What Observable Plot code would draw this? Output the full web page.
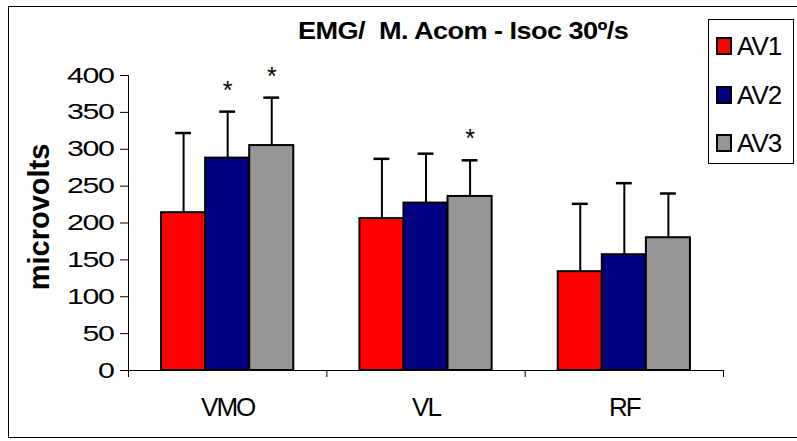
<!DOCTYPE html>
<html>
<head>
<meta charset="utf-8">
<script src="https://cdn.jsdelivr.net/npm/d3@7"></script>
<script src="https://cdn.jsdelivr.net/npm/@observablehq/plot@0.6"></script>
<style>
  html, body { margin: 0; padding: 0; background: #fff; overflow: hidden; }
  #chart { position: relative; width: 797px; height: 441px; font-family: "Liberation Sans", Arial, sans-serif; color: #000; }
  #chart svg { position: absolute; left: 0; top: 0; }
  #frame { position: absolute; left: 8px; top: 6px; width: 830px; height: 432px; border: 1px solid #000; box-sizing: border-box; }
  #title { position: absolute; left: 298px; top: 19px; font-weight: bold; font-size: 24px; line-height: 24px; white-space: pre; letter-spacing: -0.5px; transform: scaleX(1.13); transform-origin: 0 50%; }
  #legend { position: absolute; left: 708px; top: 19px; width: 86px; height: 145px; border: 1px solid #000; box-sizing: border-box; background: #fff; }
  #legend .item { position: absolute; left: 7px; height: 20px; display: flex; align-items: center; }
  #legend .swatch { width: 16px; height: 18px; border: 2px solid #000; box-sizing: border-box; }
  #legend .item span { font-size: 26px; line-height: 20px; letter-spacing: -1px; margin-left: 5px; }
</style>
</head>
<body>
<div id="chart"></div>
<script>
// Mean EMG amplitude (microvolts) per muscle and assessment, with upward SD bars
const categories = ["VMO", "VL", "RF"];
const series = ["AV1", "AV2", "AV3"];
const colors = ["#ff0000", "#000080", "#969696"];
const av1Mean = [214, 206, 134];
const av2Mean = [288, 227, 157];
const av3Mean = [305, 236, 180];
const av1Sd = [108, 81, 92];
const av2Sd = [63, 67, 97];
const av3Sd = [65, 49, 60];
// significance markers (*)
const av1Sig = [false, false, false];
const av2Sig = [true, false, false];
const av3Sig = [true, true, false];
const yTicks = [0, 50, 100, 150, 200, 250, 300, 350, 400];
const title = "EMG/  M. Acom - Isoc 30º/s";
const yLabel = "microvolts";

const means = [av1Mean, av2Mean, av3Mean];
const sds = [av1Sd, av2Sd, av3Sd];
const sigs = [av1Sig, av2Sig, av3Sig];

const rows = [];
series.forEach((s, si) => categories.forEach((c, ci) => {
  rows.push({category: c, series: s, ci, si, mean: means[si][ci], sd: sds[si][ci], sig: sigs[si][ci]});
}));

// Each category takes one x unit: three bars of 1/4.5 unit, 0.75-bar gaps on each side
const GROUP = 4.5;
const left = d => d.ci + (0.75 + d.si) / GROUP;
const right = d => d.ci + (1.75 + d.si) / GROUP;
const mid = d => d.ci + (1.25 + d.si) / GROUP;
const upper = d => d.mean + d.sd;
const CAP = 0.04;

const chart = Plot.plot({
  width: 797,
  height: 441,
  marginLeft: 128,
  marginRight: 74,
  marginTop: 75,
  marginBottom: 71,
  style: {fontFamily: '"Liberation Sans", Arial, sans-serif', background: "transparent", overflow: "visible", color: "#000"},
  x: {domain: [0, 3], ticks: [0, 1, 2, 3], tickSize: 7, tickFormat: () => "", label: null},
  y: {domain: [0, 400], ticks: yTicks, tickSize: 8, tickFormat: () => "", label: null},
  color: {domain: series, range: colors},
  marks: [
    Plot.rectY(rows, {x1: left, x2: right, y1: 0, y2: "mean", fill: "series", stroke: "#000", strokeWidth: 2}),
    Plot.ruleX(rows, {x: mid, y1: "mean", y2: upper, stroke: "#000", strokeWidth: 2}),
    Plot.ruleY(rows, {y: upper, x1: d => mid(d) - CAP, x2: d => mid(d) + CAP, stroke: "#000", strokeWidth: 2.5}),
    Plot.text(rows.filter(d => d.sig), {x: mid, y: upper, text: () => "*", dy: -21, fontSize: 25}),
    Plot.ruleX([0], {y1: 0, y2: 400, stroke: "#000"}),
    Plot.ruleY([0], {stroke: "#000"}),
    Plot.text(yTicks, {y: d => d, text: d => String(d), frameAnchor: "left", dx: -15, textAnchor: "end", fontSize: 22}),
    Plot.text(categories, {x: (d, i) => i + 0.5, text: d => d, frameAnchor: "bottom", textAnchor: "middle", dy: 45, fontSize: 26}),
    Plot.text([yLabel], {text: d => d, frameAnchor: "left", textAnchor: "middle", rotate: -90, dx: -89, dy: -6, fontSize: 29, fontWeight: "bold"})
  ]
});

const root = document.getElementById("chart");
root.appendChild(chart);

const svgText = d3.select(chart).selectAll("text");
const tickStrings = yTicks.map(String);

// widen the y tick numerals horizontally, keeping their right edge fixed
function stretchX(selection, sx) {
  selection.each(function () {
    const t = d3.select(this);
    const x = parseFloat(t.attr("x")) || 0;
    const tr = t.attr("transform") || "";
    t.attr("x", null).attr("transform", `${tr} translate(${x},0) scale(${sx},1)`);
  });
}
const tickLabels = svgText.filter(function () { return tickStrings.includes(this.textContent); });
tickLabels.style("letter-spacing", "-1px");
stretchX(tickLabels, 1.38);

svgText.filter(function () { return categories.includes(this.textContent); })
  .style("letter-spacing", "-2px");

const frame = document.createElement("div");
frame.id = "frame";
root.appendChild(frame);

const t = document.createElement("div");
t.id = "title";
t.textContent = title;
root.appendChild(t);

const legend = document.createElement("div");
legend.id = "legend";
series.forEach((s, i) => {
  const item = document.createElement("div");
  item.className = "item";
  item.style.top = (16 + i * 48.5) + "px";
  const sw = document.createElement("div");
  sw.className = "swatch";
  sw.style.background = colors[i];
  const label = document.createElement("span");
  label.textContent = s;
  item.appendChild(sw);
  item.appendChild(label);
  legend.appendChild(item);
});
root.appendChild(legend);
</script>
</body>
</html>
